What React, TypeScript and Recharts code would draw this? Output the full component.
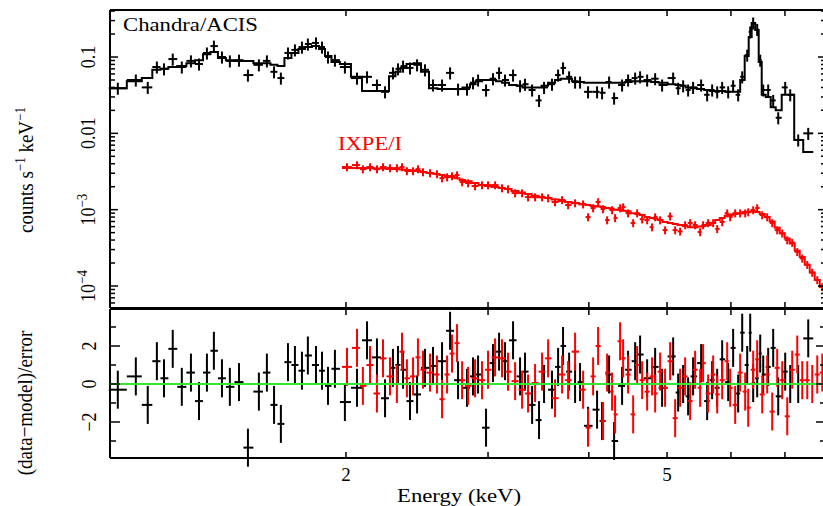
import { ComposedChart, Line, Scatter, ErrorBar, XAxis, YAxis } from 'recharts';

// Chandra/ACIS: bin centres (keV), count rate, folded model, (data-model)/error
const CHANDRA_E = [
  1.043, 1.098, 1.136, 1.166, 1.19, 1.22, 1.252, 1.285, 1.315, 1.345,
  1.372, 1.404, 1.436, 1.474, 1.512, 1.56, 1.596, 1.629, 1.661, 1.695,
  1.729, 1.764, 1.794, 1.836, 1.868, 1.9, 1.938, 1.994, 2.064, 2.124,
  2.185, 2.236, 2.287, 2.32, 2.354, 2.401, 2.45, 2.506, 2.564, 2.631,
  2.692, 2.754, 2.825, 2.874, 2.916, 2.983, 3.043, 3.096, 3.149, 3.222,
  3.287, 3.334, 3.402, 3.47, 3.52, 3.601, 3.664, 3.716, 3.781, 3.846,
  3.901, 3.991, 4.095, 4.154, 4.238, 4.299, 4.398, 4.474, 4.565, 4.63,
  4.724, 4.833, 4.93, 5.088, 5.161, 5.235, 5.31, 5.386, 5.511, 5.606,
  5.687, 5.769, 5.852, 5.953, 6.038, 6.125, 6.196, 6.285, 6.339, 6.393,
  6.467, 6.523, 6.579, 6.673, 6.769, 6.867, 7.005, 7.106, 7.27, 7.481,
];
const CHANDRA_RATE = [
  0.039, 0.05, 0.04, 0.074, 0.07, 0.094, 0.074, 0.089, 0.081, 0.113,
  0.139, 0.1, 0.089, 0.091, 0.058, 0.079, 0.089, 0.064, 0.053, 0.113,
  0.124, 0.135, 0.148, 0.153, 0.135, 0.1, 0.091, 0.074, 0.053, 0.055,
  0.043, 0.035, 0.062, 0.07, 0.076, 0.072, 0.079, 0.068, 0.043, 0.043,
  0.062, 0.038, 0.038, 0.046, 0.05, 0.037, 0.052, 0.062, 0.05, 0.058,
  0.042, 0.044, 0.037, 0.027, 0.04, 0.044, 0.058, 0.072, 0.055, 0.047,
  0.047, 0.035, 0.035, 0.034, 0.047, 0.029, 0.043, 0.05, 0.053, 0.055,
  0.05, 0.052, 0.043, 0.053, 0.039, 0.042, 0.037, 0.04, 0.043, 0.032,
  0.037, 0.035, 0.04, 0.035, 0.042, 0.032, 0.055, 0.106, 0.213, 0.279,
  0.23, 0.091, 0.037, 0.037, 0.027, 0.016, 0.04, 0.032, 0.0082, 0.01,
];
const CHANDRA_MODEL = [
  0.039, 0.048, 0.053, 0.068, 0.07, 0.074, 0.076, 0.083, 0.091, 0.109,
  0.116, 0.097, 0.091, 0.089, 0.089, 0.083, 0.083, 0.079, 0.076, 0.097,
  0.113, 0.127, 0.135, 0.139, 0.127, 0.103, 0.086, 0.081, 0.055, 0.036,
  0.036, 0.036, 0.056, 0.064, 0.072, 0.081, 0.083, 0.064, 0.039, 0.038,
  0.038, 0.038, 0.04, 0.044, 0.048, 0.05, 0.05, 0.048, 0.046, 0.043,
  0.042, 0.04, 0.04, 0.04, 0.042, 0.046, 0.05, 0.052, 0.052, 0.048,
  0.047, 0.046, 0.046, 0.046, 0.046, 0.046, 0.046, 0.047, 0.048, 0.048,
  0.048, 0.047, 0.046, 0.044, 0.043, 0.042, 0.04, 0.039, 0.038, 0.037,
  0.036, 0.036, 0.036, 0.035, 0.035, 0.035, 0.05, 0.103, 0.183, 0.279,
  0.226, 0.086, 0.032, 0.03, 0.022, 0.02, 0.032, 0.032, 0.0082, 0.0057,
];
const CHANDRA_RESID = [
  -0.3, 0.4, -1.1, 1.2, 0.3, 1.85, -0.15, 0.6, -0.9, 0.6,
  1.75, 0.3, -0.15, 0.1, -3.35, -0.4, 0.6, -1.1, -2.1, 1.15,
  1.0, 0.7, 1.5, 1.0, 0.7, -0.1, 0.8, -0.95, -0.2, 2.3,
  1.4, -0.75, 0.85, 1.0, 0.75, -0.9, -0.55, 0.85, 0.95, 1.2,
  2.8, 0.2, -0.2, 0.4, 0.5, -2.3, 1.1, 1.7, 1.2, 2.3,
  0.4, 0.65, -1.1, -1.9, 0.0, -0.3, 0.9, 2.0, 0.65, 0.0,
  0.1, -2.2, -1.35, -1.95, 0.5, -3.0, -0.1, 0.75, 1.2, 1.55,
  0.3, 0.9, -0.2, 1.45, -0.45, 0.0, -0.65, 0.4, 1.1, -0.9,
  0.2, -0.2, 1.3, 0.1, 1.9, -0.5, 2.7, 1.0, 2.7, 0.05,
  0.3, 1.6, 0.5, 0.9, 1.9, -0.65, 0.65, 0.0, 0.0, 2.4,
];
const CHANDRA_FRAC_ERR = 0.18;

// IXPE/I
const IXPE_E = [
  2.006, 2.064, 2.099, 2.142, 2.185, 2.223, 2.268, 2.313, 2.347, 2.38,
  2.422, 2.456, 2.492, 2.542, 2.593, 2.631, 2.669, 2.707, 2.746, 2.786,
  2.834, 2.891, 2.949, 3.0, 3.061, 3.122, 3.176, 3.241, 3.306, 3.363,
  3.431, 3.5, 3.561, 3.632, 3.706, 3.77, 3.846, 3.935, 3.991, 4.049,
  4.107, 4.166, 4.214, 4.274, 4.311, 4.373, 4.411, 4.474, 4.539, 4.591,
  4.657, 4.724, 4.791, 4.833, 4.902, 4.972, 5.044, 5.117, 5.19, 5.265,
  5.341, 5.417, 5.495, 5.542, 5.622, 5.703, 5.769, 5.852, 5.936, 5.987,
  6.073, 6.16, 6.249, 6.303, 6.393, 6.467, 6.56, 6.654, 6.75, 6.847,
  6.946, 7.046, 7.147, 7.25, 7.354, 7.46, 7.567, 7.676, 7.787,
];
const IXPE_RATE = [
  0.00362, 0.00384, 0.0034, 0.00362, 0.0034, 0.00362, 0.00351, 0.00351, 0.00362, 0.00321,
  0.00321, 0.0034, 0.00311, 0.00302, 0.00293, 0.00259, 0.00267, 0.00276, 0.00284, 0.0023,
  0.00223, 0.00204, 0.0021, 0.0021, 0.0021, 0.00192, 0.00186, 0.00165, 0.00165, 0.00146,
  0.00146, 0.00146, 0.00142, 0.00126, 0.00134, 0.00115, 0.00122, 0.00118, 0.0008, 0.00105,
  0.00126, 0.00102, 0.00073, 0.00099, 0.00078, 0.00105, 0.00108, 0.0009, 0.00067, 0.0009,
  0.00075, 0.00073, 0.00059, 0.0008, 0.00073, 0.00054, 0.00082, 0.00054, 0.00052, 0.00063,
  0.00067, 0.00063, 0.00051, 0.00063, 0.00067, 0.00067, 0.00056, 0.00069, 0.0009, 0.0008,
  0.0009, 0.0009, 0.0009, 0.00093, 0.00099, 0.00105, 0.00085, 0.0008, 0.00067, 0.00054,
  0.00049, 0.0004, 0.00037, 0.00028, 0.00023, 0.00019, 0.00015, 0.00012, 0.000097,
];
const IXPE_MODEL = [
  0.00351, 0.00351, 0.00351, 0.00351, 0.00345, 0.00345, 0.0034, 0.0034, 0.00335, 0.0033,
  0.00325, 0.0032, 0.00311, 0.00302, 0.00293, 0.00284, 0.00276, 0.00267, 0.00259, 0.00245,
  0.00235, 0.00223, 0.0021, 0.00204, 0.00198, 0.00192, 0.00186, 0.00176, 0.00168, 0.0016,
  0.00152, 0.00146, 0.00142, 0.00136, 0.0013, 0.00126, 0.00122, 0.00118, 0.00115, 0.00112,
  0.0011, 0.00108, 0.00105, 0.00103, 0.001, 0.00099, 0.00097, 0.00095, 0.0009, 0.00088,
  0.00085, 0.0008, 0.00078, 0.00076, 0.00073, 0.00069, 0.00067, 0.00065, 0.00063, 0.00061,
  0.00059, 0.00059, 0.0006, 0.00061, 0.00063, 0.00067, 0.00073, 0.00078, 0.00083, 0.00085,
  0.00088, 0.0009, 0.00093, 0.00094, 0.00095, 0.00093, 0.00088, 0.0008, 0.0007, 0.00058,
  0.00049, 0.00042, 0.00036, 0.00029, 0.00024, 0.00019, 0.00015, 0.00012, 0.000097,
];
const IXPE_RESID = [
  0.9, 1.9, -0.1, 1.0, -0.5, 1.35, 0.4, 0.0, 1.7, 0.3,
  0.4, 1.4, 0.75, 0.6, 0.5, -0.8, 0.5, 1.6, 2.15, 0.2,
  -0.1, 0.3, 0.2, 0.75, 1.4, 1.35, 0.65, 0.15, -0.3, -0.5,
  0.05, 0.65, 1.35, -0.75, 0.5, 0.2, 1.7, -0.3, -2.3, 0.4,
  2.0, -1.95, 0.6, -0.4, -1.6, 2.25, 1.35, 0.5, -1.6, 1.0,
  0.2, -0.4, 0.4, -0.5, 0.65, -0.2, 1.2, -1.8, -0.2, 0.4,
  -0.9, 0.75, -0.2, 1.1, -0.5, 0.5, -0.55, 0.2, 1.2, -0.2,
  -1.1, 0.6, -0.4, -1.25, 0.75, 1.3, -0.55, 0.5, -1.45, 0.85,
  0.2, -1.7, 0.75, 1.55, 0.2, 0.2, 0.0, 0.5, 0.6,
];
const IXPE_FRAC_ERR = 0.12;
const RESID_ERR = 1;

const X_DOMAIN = [1.02, 7.87];
const X_TICKS = [2, 3, 4, 5, 6, 7];
const X_LABELED = [2, 5];

const Y_DOMAIN = [5.15e-5, 0.413];
const Y_TICKS = [
  6e-5, 7e-5, 8e-5, 9e-5, 1e-4, 2e-4, 3e-4, 4e-4, 5e-4, 6e-4, 7e-4, 8e-4, 9e-4,
  1e-3, 2e-3, 3e-3, 4e-3, 5e-3, 6e-3, 7e-3, 8e-3, 9e-3,
  0.01, 0.02, 0.03, 0.04, 0.05, 0.06, 0.07, 0.08, 0.09, 0.1, 0.2, 0.3, 0.4,
];
const Y_MAJOR = [1e-4, 1e-3, 0.01, 0.1];
const Y_BASE = ['10', '10', '0.01', '0.1'];
const Y_EXP = ['\u22124', '\u22123', '', ''];

const R_DOMAIN = [-3.895, 3.947];
const R_TICKS = [-3, -2, -1, 0, 1, 2, 3];
const R_MAJOR = [-2, 0, 2];
const R_BASE = ['\u22122', '0', '2'];

const FONT = "'Liberation Serif', 'Times New Roman', serif";
const BLACK = '#000000';
const RED = '#ff0000';
const GREEN = '#33e633';

function findIndex(v: number, list: number[]) {
  return list.findIndex((m) => Math.abs(m - v) <= Math.abs(m) * 1e-6 + 1e-12);
}

// geometric bin edges around each centre
function binEdges(e: number[]) {
  const n = e.length;
  const mids = e.slice(1).map((v, i) => Math.sqrt(v * e[i]));
  const lo = [(e[0] * e[0]) / mids[0], ...mids];
  const hi = [...mids, (e[n - 1] * e[n - 1]) / mids[n - 2]];
  return { lo, hi };
}

function spectrumPoints(e: number[], rate: number[], frac: number) {
  const { lo, hi } = binEdges(e);
  return e.map((v, i) => ({ e: v, y: rate[i], ex: [v - lo[i], hi[i] - v], ey: rate[i] * frac }));
}

function residPoints(e: number[], res: number[]) {
  const { lo, hi } = binEdges(e);
  return e.map((v, i) => ({ e: v, y: res[i], ex: [v - lo[i], hi[i] - v], ey: RESID_ERR }));
}

function modelSteps(e: number[], model: number[]) {
  const { lo, hi } = binEdges(e);
  const pts = e.map((_, i) => ({ e: lo[i], m: model[i] }));
  pts.push({ e: hi[e.length - 1], m: model[model.length - 1] });
  return pts;
}

const chandraData = spectrumPoints(CHANDRA_E, CHANDRA_RATE, CHANDRA_FRAC_ERR);
const ixpeData = spectrumPoints(IXPE_E, IXPE_RATE, IXPE_FRAC_ERR);
const chandraModel = modelSteps(CHANDRA_E, CHANDRA_MODEL);
const ixpeModel = modelSteps(IXPE_E, IXPE_MODEL);
const chandraResid = residPoints(CHANDRA_E, CHANDRA_RESID);
const ixpeResid = residPoints(IXPE_E, IXPE_RESID);
const zeroLine = [
  { e: X_DOMAIN[0], m: 0 },
  { e: X_DOMAIN[1], m: 0 },
];

const NoPoint = () => <g />;

function xTick(side: 'top' | 'bottom', withLabel: boolean) {
  return (props: any) => {
    const { x, y, payload } = props;
    const idx = findIndex(payload.value, X_LABELED);
    const dir = side === 'bottom' ? -1 : 1;
    return (
      <g>
        <line x1={x} x2={x} y1={y} y2={y + dir * 6} stroke={BLACK} strokeWidth={1.5} />
        {withLabel && idx >= 0 && (
          <text x={x} y={y + 23} textAnchor="middle" fontFamily={FONT} fontSize={19} fill={BLACK}>
            {X_LABELED[idx]}
          </text>
        )}
      </g>
    );
  };
}

function yTick(
  side: 'left' | 'right',
  majors: number[],
  base: string[],
  exp: string[] | null,
  majorLen: number,
  minorLen: number,
  labelDx: number,
) {
  return (props: any) => {
    const { x, y, payload } = props;
    const idx = findIndex(payload.value, majors);
    const len = idx >= 0 ? majorLen : minorLen;
    const dir = side === 'left' ? 1 : -1;
    return (
      <g>
        <line x1={x} x2={x + dir * len} y1={y} y2={y} stroke={BLACK} strokeWidth={1.5} />
        {side === 'left' && idx >= 0 && (
          <text
            transform={`translate(${x - labelDx},${y}) scale(1.15,1) rotate(-90)`}
            x={0}
            y={6}
            textAnchor="middle"
            fontFamily={FONT}
            fontSize={18}
            fill={BLACK}
          >
            {base[idx]}
            {exp && exp[idx] && (
              <tspan dy={-7} fontSize={13}>
                {exp[idx]}
              </tspan>
            )}
          </text>
        )}
      </g>
    );
  };
}

const axisLine = { stroke: BLACK, strokeWidth: 2 };

// axes get 1px of room (a zero-size axis is not drawn), margins absorb it
export default function App() {
  return (
    <div
      style={{
        position: 'fixed',
        left: 0,
        top: 0,
        width: 823,
        height: 506,
        overflow: 'hidden',
        background: '#ffffff',
      }}
    >
      <div style={{ position: 'absolute', left: 0, top: 0 }}>
        <ComposedChart width={900} height={320} margin={{ top: 9, right: 73, bottom: 11, left: 109 }}>
          <XAxis
            dataKey="e"
            type="number"
            scale="log"
            domain={X_DOMAIN}
            allowDataOverflow
            ticks={X_TICKS}
            interval={0}
            tickSize={0}
            tickMargin={0}
            height={1}
            axisLine={axisLine}
            tickLine={false}
            tick={xTick('bottom', false)}
          />
          <XAxis
            xAxisId="top"
            orientation="top"
            dataKey="e"
            type="number"
            scale="log"
            domain={X_DOMAIN}
            allowDataOverflow
            ticks={X_TICKS}
            interval={0}
            tickSize={0}
            tickMargin={0}
            height={1}
            axisLine={axisLine}
            tickLine={false}
            tick={xTick('top', false)}
          />
          <YAxis
            type="number"
            scale="log"
            domain={Y_DOMAIN}
            allowDataOverflow
            ticks={Y_TICKS}
            interval={0}
            tickSize={0}
            tickMargin={0}
            width={1}
            axisLine={axisLine}
            tickLine={false}
            tick={yTick('left', Y_MAJOR, Y_BASE, Y_EXP, 8, 5, 22)}
          />
          <YAxis
            yAxisId="right"
            orientation="right"
            type="number"
            scale="log"
            domain={Y_DOMAIN}
            allowDataOverflow
            ticks={Y_TICKS}
            interval={0}
            tickSize={0}
            tickMargin={0}
            width={1}
            axisLine={axisLine}
            tickLine={false}
            tick={yTick('right', Y_MAJOR, Y_BASE, Y_EXP, 8, 5, 22)}
          />
          <Scatter data={chandraData} dataKey="y" shape={NoPoint} isAnimationActive={false}>
            <ErrorBar dataKey="ex" direction="x" width={0} stroke={BLACK} strokeWidth={2} isAnimationActive={false} />
            <ErrorBar dataKey="ey" direction="y" width={0} stroke={BLACK} strokeWidth={2} isAnimationActive={false} />
          </Scatter>
          <Scatter data={ixpeData} dataKey="y" shape={NoPoint} isAnimationActive={false}>
            <ErrorBar dataKey="ex" direction="x" width={0} stroke={RED} strokeWidth={2} isAnimationActive={false} />
            <ErrorBar dataKey="ey" direction="y" width={0} stroke={RED} strokeWidth={2} isAnimationActive={false} />
          </Scatter>
          <Line
            data={chandraModel}
            dataKey="m"
            type="stepAfter"
            stroke={BLACK}
            strokeWidth={2}
            dot={false}
            activeDot={false}
            isAnimationActive={false}
            zIndex={700}
          />
          <Line
            data={ixpeModel}
            dataKey="m"
            type="stepAfter"
            stroke={RED}
            strokeWidth={2}
            dot={false}
            activeDot={false}
            isAnimationActive={false}
            zIndex={700}
          />
        </ComposedChart>
      </div>

      <div style={{ position: 'absolute', left: 0, top: 300 }}>
        <ComposedChart width={900} height={206} margin={{ top: 8, right: 73, bottom: 47, left: 109 }}>
          <XAxis
            dataKey="e"
            type="number"
            scale="log"
            domain={X_DOMAIN}
            allowDataOverflow
            ticks={X_TICKS}
            interval={0}
            tickSize={0}
            tickMargin={0}
            height={1}
            axisLine={axisLine}
            tickLine={false}
            tick={xTick('bottom', true)}
          />
          <XAxis
            xAxisId="top"
            orientation="top"
            dataKey="e"
            type="number"
            scale="log"
            domain={X_DOMAIN}
            allowDataOverflow
            ticks={X_TICKS}
            interval={0}
            tickSize={0}
            tickMargin={0}
            height={1}
            axisLine={axisLine}
            tickLine={false}
            tick={xTick('top', false)}
          />
          <YAxis
            type="number"
            domain={R_DOMAIN}
            allowDataOverflow
            ticks={R_TICKS}
            interval={0}
            tickSize={0}
            tickMargin={0}
            width={1}
            axisLine={axisLine}
            tickLine={false}
            tick={yTick('left', R_MAJOR, R_BASE, null, 10, 6, 21)}
          />
          <YAxis
            yAxisId="right"
            orientation="right"
            type="number"
            domain={R_DOMAIN}
            allowDataOverflow
            ticks={R_TICKS}
            interval={0}
            tickSize={0}
            tickMargin={0}
            width={1}
            axisLine={axisLine}
            tickLine={false}
            tick={yTick('right', R_MAJOR, R_BASE, null, 10, 6, 21)}
          />
          <Scatter data={chandraResid} dataKey="y" shape={NoPoint} isAnimationActive={false}>
            <ErrorBar dataKey="ex" direction="x" width={0} stroke={BLACK} strokeWidth={2} isAnimationActive={false} />
            <ErrorBar dataKey="ey" direction="y" width={0} stroke={BLACK} strokeWidth={2} isAnimationActive={false} />
          </Scatter>
          <Scatter data={ixpeResid} dataKey="y" shape={NoPoint} isAnimationActive={false}>
            <ErrorBar dataKey="ex" direction="x" width={0} stroke={RED} strokeWidth={2} isAnimationActive={false} />
            <ErrorBar dataKey="ey" direction="y" width={0} stroke={RED} strokeWidth={2} isAnimationActive={false} />
          </Scatter>
          <Line
            data={zeroLine}
            dataKey="m"
            stroke={GREEN}
            strokeWidth={2}
            dot={false}
            activeDot={false}
            isAnimationActive={false}
            zIndex={800}
          />
        </ComposedChart>
      </div>

      <svg
        width={823}
        height={506}
        style={{ position: 'absolute', left: 0, top: 0, pointerEvents: 'none' }}
        fontFamily={FONT}
      >
        <text x={123} y={31} fontSize={19} textLength={135} lengthAdjust="spacingAndGlyphs" fill={BLACK}>
          Chandra/ACIS
        </text>
        <text x={338} y={150} fontSize={19} textLength={64} lengthAdjust="spacingAndGlyphs" fill={RED}>
          IXPE/I
        </text>
        <text x={397} y={502} fontSize={19} textLength={124} lengthAdjust="spacingAndGlyphs" fill={BLACK}>
          Energy (keV)
        </text>
        <text
          transform="translate(26,170) scale(1.15,1) rotate(-90)"
          x={0}
          y={6}
          fontSize={19}
          textAnchor="middle"
          fill={BLACK}
        >
          counts s
          <tspan dy={-7} fontSize={13}>
            {'\u22121'}
          </tspan>
          <tspan dy={7}> keV</tspan>
          <tspan dy={-7} fontSize={13}>
            {'\u22121'}
          </tspan>
        </text>
        <text
          transform="translate(26,403) scale(1.15,1) rotate(-90)"
          x={0}
          y={5}
          fontSize={19}
          textAnchor="middle"
          fill={BLACK}
        >
          {'(data\u2212model)/error'}
        </text>
      </svg>
    </div>
  );
}
